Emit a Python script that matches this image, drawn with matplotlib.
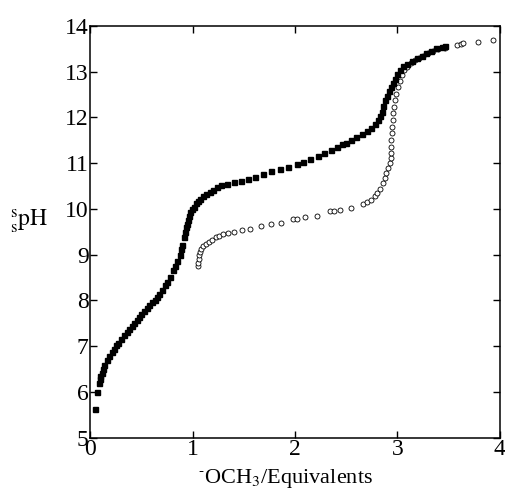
import matplotlib
matplotlib.use("Agg")
import matplotlib.pyplot as plt

# filled squares
eq_filled = [0.049, 0.065, 0.088, 0.095, 0.10, 0.114, 0.125, 0.14, 0.163, 0.18,
             0.21, 0.23, 0.255, 0.277, 0.30, 0.33, 0.358, 0.38, 0.41, 0.43,
             0.455, 0.48, 0.50, 0.53, 0.553, 0.58, 0.60, 0.63, 0.65, 0.67,
             0.70, 0.73, 0.75, 0.78, 0.81, 0.83, 0.85, 0.878, 0.89, 0.90,
             0.92, 0.93, 0.94, 0.95, 0.96, 0.97, 0.98, 0.99, 1.01, 1.03,
             1.05, 1.07, 1.10, 1.13, 1.17, 1.20, 1.24, 1.28, 1.34, 1.40,
             1.47, 1.54, 1.61, 1.69, 1.77, 1.85, 1.93, 2.02, 2.08, 2.15,
             2.22, 2.28, 2.35, 2.41, 2.46, 2.50, 2.55, 2.60, 2.65, 2.70,
             2.74, 2.78, 2.81, 2.83, 2.85, 2.86, 2.88, 2.90, 2.92, 2.94,
             2.96, 2.98, 3.00, 3.02, 3.05, 3.09, 3.14, 3.19, 3.24, 3.28,
             3.33, 3.38, 3.43, 3.46]
ph_filled = [5.63, 5.99, 6.19, 6.28, 6.35, 6.41, 6.50, 6.58, 6.70, 6.78,
             6.88, 6.95, 7.02, 7.06, 7.15, 7.24, 7.32, 7.38, 7.45, 7.50,
             7.57, 7.64, 7.70, 7.76, 7.83, 7.90, 7.96, 8.02, 8.08, 8.15,
             8.22, 8.34, 8.40, 8.52, 8.67, 8.76, 8.86, 9.00, 9.12, 9.22,
             9.39, 9.50, 9.60, 9.68, 9.76, 9.85, 9.93, 10.00, 10.05, 10.12,
             10.17, 10.22, 10.28, 10.33, 10.38, 10.42, 10.47, 10.52, 10.55, 10.58,
             10.62, 10.66, 10.71, 10.77, 10.82, 10.87, 10.92, 10.98, 11.03, 11.09,
             11.15, 11.22, 11.29, 11.36, 11.41, 11.45, 11.51, 11.58, 11.64, 11.70,
             11.78, 11.86, 11.95, 12.03, 12.13, 12.25, 12.38, 12.48, 12.57, 12.67,
             12.75, 12.84, 12.94, 13.04, 13.12, 13.18, 13.24, 13.29, 13.35, 13.40,
             13.46, 13.51, 13.55, 13.56]

# open circles
eq_open = [1.057, 1.057, 1.06, 1.06, 1.07, 1.08, 1.105, 1.13, 1.16, 1.19,
           1.23, 1.26, 1.30, 1.35, 1.40, 1.48, 1.56, 1.67, 1.77, 1.86,
           1.98, 2.02, 2.10, 2.21, 2.34, 2.38, 2.44, 2.55, 2.66, 2.70,
           2.74, 2.78, 2.80, 2.83, 2.86, 2.88, 2.89, 2.91, 2.93, 2.94,
           2.94, 2.94, 2.94, 2.95, 2.95, 2.96, 2.96, 2.97, 2.98, 2.99,
           3.01, 3.02, 3.04, 3.06, 3.09, 3.13, 3.17, 3.21, 3.25, 3.30,
           3.35, 3.40, 3.46, 3.58, 3.62, 3.64, 3.79, 3.93]
ph_open = [8.75, 8.83, 8.91, 8.99, 9.06, 9.12, 9.18, 9.23, 9.28, 9.32,
           9.38, 9.42, 9.45, 9.48, 9.50, 9.54, 9.56, 9.63, 9.67, 9.69,
           9.78, 9.79, 9.82, 9.85, 9.95, 9.96, 9.98, 10.03, 10.10, 10.16,
           10.20, 10.28, 10.34, 10.44, 10.56, 10.67, 10.78, 10.89, 11.00, 11.11,
           11.22, 11.36, 11.51, 11.65, 11.80, 11.95, 12.09, 12.24, 12.38, 12.52,
           12.67, 12.80, 12.93, 13.03, 13.11, 13.19, 13.26, 13.30, 13.34, 13.40,
           13.46, 13.49, 13.51, 13.58, 13.61, 13.62, 13.64, 13.69]

plt.rcParams["font.family"] = ["Liberation Serif", "DejaVu Serif"]
plt.rcParams["mathtext.fontset"] = "stix"

fig = plt.figure(figsize=(5.06, 4.96), dpi=100)
ax = fig.add_axes([0.178, 0.1175, 0.81, 0.8301])

ax.plot(eq_open, ph_open, "o", ms=3.6, mfc="white", mec="black", mew=0.6,
        linestyle="none")
ax.plot(eq_filled, ph_filled, "s", ms=3.6, color="black", linestyle="none")

ax.set_xlim(0, 4)
ax.set_ylim(5, 14)
ax.set_xticks([0, 1, 2, 3, 4])
ax.set_yticks(range(5, 15))
ax.tick_params(direction="in", top=True, right=True, length=5, width=1,
               labelsize=17)
ax.tick_params(axis="x", pad=1)
ax.tick_params(axis="y", pad=1)
for s in ax.spines.values():
    s.set_linewidth(1.1)

ax.set_xlabel(r"$^{\text{-}}$OCH$_3$/Equivalents", fontsize=16, va="center")
ax.xaxis.set_label_coords(0.476, -0.098)
ax.set_ylabel(r"${}^{\mathrm{s}}_{\mathrm{s}}\mathrm{pH}$", fontsize=17, rotation=0,
              va="center", ha="center")
ax.yaxis.set_label_coords(-0.148, 0.525)

fig.savefig("out.png", dpi=100, facecolor="white")
